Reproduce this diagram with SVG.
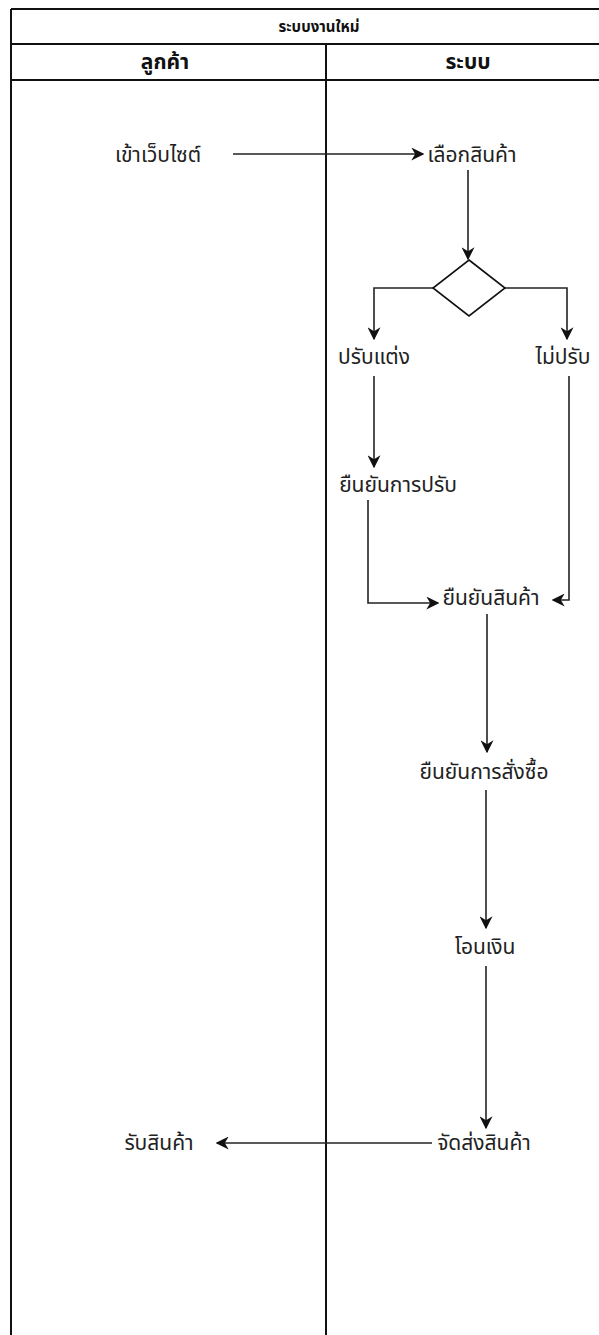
<svg xmlns="http://www.w3.org/2000/svg" width="599" height="1335" viewBox="0 0 599 1335">
<style>
.t{font-family:Tahoma,"Noto Sans Thai","Noto Sans","DejaVu Sans",sans-serif;font-size:21px;fill:#222;text-anchor:middle;dominant-baseline:central}
.h{font-family:Tahoma,"Noto Sans Thai","Noto Sans","DejaVu Sans",sans-serif;font-size:21px;font-weight:bold;fill:#111;text-anchor:middle;dominant-baseline:central}
.ti{font-family:Tahoma,"Noto Sans Thai","Noto Sans","DejaVu Sans",sans-serif;font-size:15px;font-weight:bold;fill:#111;text-anchor:middle;dominant-baseline:central}
.b{stroke:#111;stroke-width:2;fill:none}
.c{stroke:#222;stroke-width:1.6;fill:none;marker-end:url(#a)}
</style>
<defs>
<marker id="a" viewBox="0 0 10 10" refX="9" refY="5" markerWidth="13" markerHeight="13" markerUnits="userSpaceOnUse" orient="auto">
<path d="M0,0 L10,5 L0,10 L3,5 Z" fill="#111"/>
</marker>
</defs>
<rect width="599" height="1335" fill="#fff"/>
<g id="pool">
<line class="b" x1="11" y1="9" x2="599" y2="9"/>
<line class="b" x1="11" y1="44" x2="599" y2="44"/>
<line class="b" x1="11" y1="80" x2="599" y2="80"/>
<line class="b" x1="11" y1="9" x2="11" y2="1335"/>
<line class="b" x1="326" y1="44" x2="326" y2="1335"/>
<text class="ti" x="319" y="27">ระบบงานใหม่</text>
<text class="h" x="165" y="62">ลูกค้า</text>
<text class="h" x="468" y="62">ระบบ</text>
</g>
<g id="connectors">
<path class="c" d="M233,154 H423"/>
<path class="c" d="M468,170 V259"/>
<path class="c" d="M433,288 H374 V339"/>
<path class="c" d="M504,288 H567 V339"/>
<path class="c" d="M374,376 V467"/>
<path class="c" d="M368,500 V603 H438"/>
<path class="c" d="M569,376 V600 H553"/>
<path class="c" d="M487,614 V752"/>
<path class="c" d="M486,790 V928"/>
<path class="c" d="M486,966 V1128"/>
<path class="c" d="M432,1143 H217"/>
</g>
<g id="n1"><text class="t" x="158" y="155">เข้าเว็บไซต์</text></g>
<g id="n2"><text class="t" x="472" y="155">เลือกสินค้า</text></g>
<g id="n3"><path d="M469,260 L505,288 L469,316 L433,288 Z" fill="#fff" stroke="#111" stroke-width="1.6"/></g>
<g id="n4"><text class="t" x="374" y="357">ปรับแต่ง</text></g>
<g id="n5"><text class="t" x="563" y="357">ไม่ปรับ</text></g>
<g id="n6"><text class="t" x="398" y="485">ยืนยันการปรับ</text></g>
<g id="n7"><text class="t" x="491" y="598">ยืนยันสินค้า</text></g>
<g id="n8"><text class="t" x="484" y="772">ยืนยันการสั่งซื้อ</text></g>
<g id="n9"><text class="t" x="485" y="947">โอนเงิน</text></g>
<g id="n10"><text class="t" x="484" y="1143">จัดส่งสินค้า</text></g>
<g id="n11"><text class="t" x="159" y="1143">รับสินค้า</text></g>
</svg>
